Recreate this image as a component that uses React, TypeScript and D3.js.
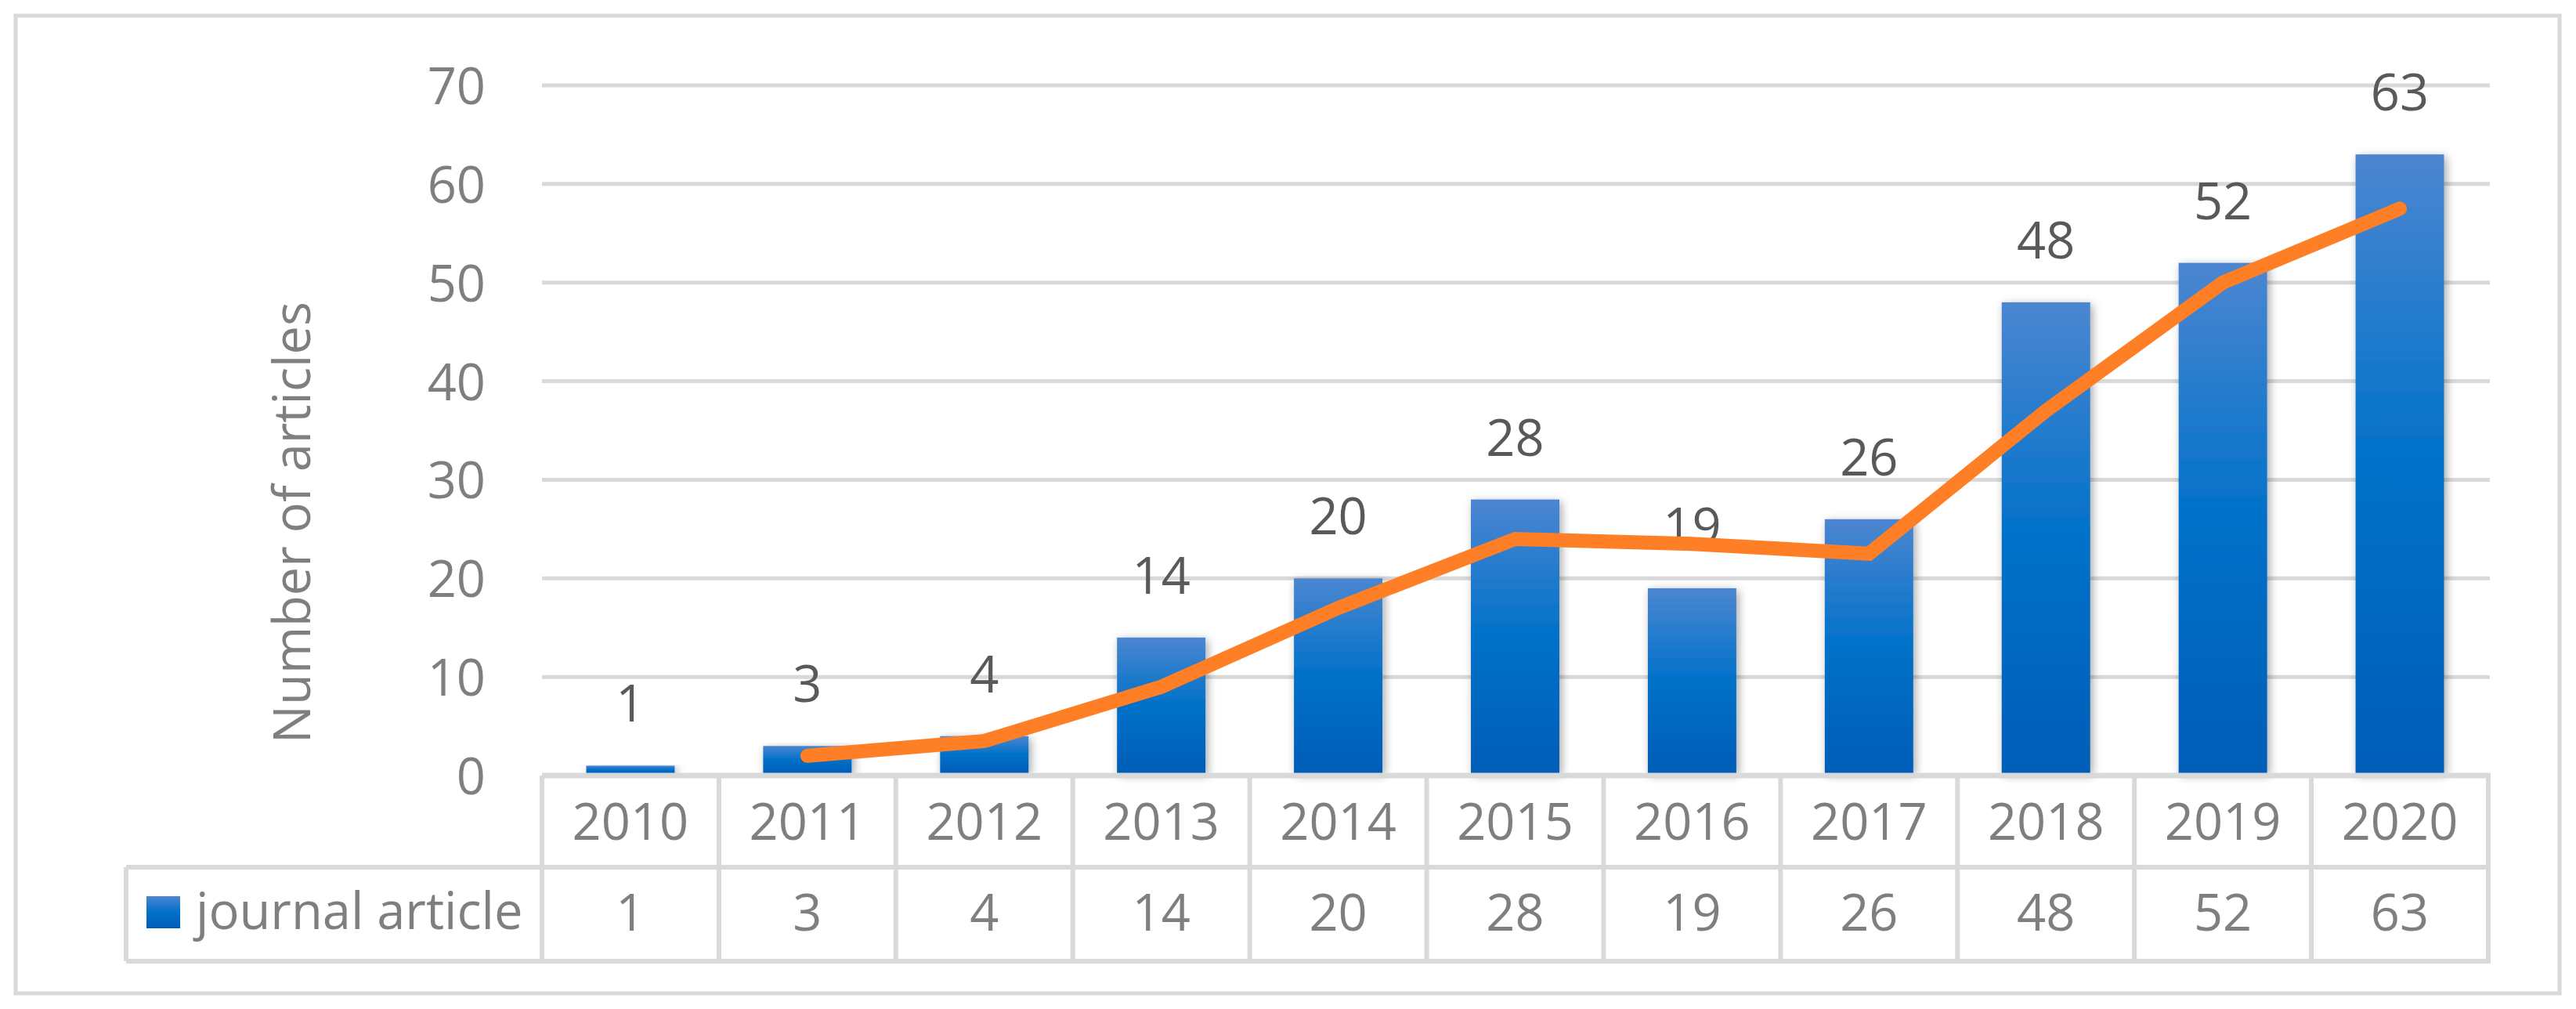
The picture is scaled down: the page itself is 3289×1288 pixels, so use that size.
import React from "react";
import * as d3 from "d3";

const years = ["2010", "2011", "2012", "2013", "2014", "2015", "2016", "2017", "2018", "2019", "2020"];
const articles = [1, 3, 4, 14, 20, 28, 19, 26, 48, 52, 63];
// trend line values (starts at 2011)
const trendYears = ["2011", "2012", "2013", "2014", "2015", "2016", "2017", "2018", "2019", "2020"];
const trendValues = [2, 3.5, 9, 17, 24, 23.5, 22.5, 37, 50, 57.5];
const yTicks = [0, 10, 20, 30, 40, 50, 60, 70];
const seriesName = "journal article";
const yTitle = "Number of articles";

const W = 3289;
const H = 1288;
const FONT = "'Open Sans', Lato, sans-serif";
const FS = 65;
const GRID = "#d9d9d9";
const TXT = "#7f7f7f";
const LBL = "#595959";

export default function App() {
  const plotLeft = 692;
  const plotRight = 3177;
  const yScale = d3.scaleLinear().domain([0, 70]).range([990, 109]);
  const colScale = d3.scaleBand<string>().domain(years).range([plotLeft, plotRight]).padding(0);
  const barScale = d3
    .scaleBand<string>()
    .domain(years)
    .range([plotLeft, plotRight])
    .paddingInner(0.5)
    .paddingOuter(0.25);

  const tableTop = yScale(0);
  const rowMid = 1107;
  const tableBottom = 1227;
  const legendLeft = 161;

  const line = d3
    .line<number>()
    .x((_, i) => (barScale(trendYears[i]) as number) + barScale.bandwidth() / 2)
    .y((d) => yScale(d));

  const colEdges = years.map((y) => colScale(y) as number).concat([plotRight]);

  return (
    <svg
      width={W}
      height={H}
      style={{ position: "absolute", left: 0, top: 0, background: "#fff" }}
      fontFamily={FONT}
    >
      <defs>
        <linearGradient id="barGrad" x1="0" y1="0" x2="0" y2="1">
          <stop offset="0%" stopColor="#4c86d1" />
          <stop offset="50%" stopColor="#0071c9" />
          <stop offset="100%" stopColor="#005db7" />
        </linearGradient>
        <filter id="shadow" x="-30%" y="-10%" width="160%" height="120%">
          <feDropShadow dx="3" dy="3" stdDeviation="6" floodColor="#000" floodOpacity="0.35" />
        </filter>
      </defs>
      <rect x={0} y={0} width={W} height={H} fill="#fff" />
      {/* outer border */}
      <rect x={20} y={20} width={3248} height={1248} fill="none" stroke={GRID} strokeWidth={5} />

      {/* gridlines */}
      {yTicks
        .filter((t) => t > 0)
        .map((t) => (
          <line key={t} x1={plotLeft} x2={plotRight + 2} y1={yScale(t)} y2={yScale(t)} stroke={GRID} strokeWidth={5} />
        ))}

      {/* y tick labels */}
      {yTicks.map((t) => (
        <text key={t} x={620} y={yScale(t) + 24} textAnchor="end" fontSize={FS} fill={TXT}>
          {t}
        </text>
      ))}

      {/* y title */}
      <text
        transform={`translate(396, 667) rotate(-90)`}
        textAnchor="middle"
        fontSize={FS}
        fill={TXT}
      >
        {yTitle}
      </text>

      {/* bars */}
      {years.map((yr, i) => (
        <rect
          key={yr}
          x={barScale(yr)}
          y={yScale(articles[i])}
          width={barScale.bandwidth()}
          height={tableTop - 3 - yScale(articles[i])}
          fill="url(#barGrad)"
          filter="url(#shadow)"
        />
      ))}

      {/* data labels */}
      {years.map((yr, i) => (
        <text
          key={yr}
          x={(barScale(yr) as number) + barScale.bandwidth() / 2}
          y={yScale(articles[i]) - 56}
          textAnchor="middle"
          fontSize={FS}
          fill={LBL}
        >
          {articles[i]}
        </text>
      ))}

      {/* trend line */}
      <path
        d={line(trendValues) as string}
        fill="none"
        stroke="#fe7f26"
        strokeWidth={18}
        strokeLinecap="round"
        strokeLinejoin="miter"
      />

      {/* data table */}
      <line x1={plotLeft} x2={plotRight + 3} y1={tableTop} y2={tableTop} stroke={GRID} strokeWidth={7} />
      <line x1={legendLeft} x2={plotRight + 3} y1={rowMid} y2={rowMid} stroke={GRID} strokeWidth={6} />
      <line x1={legendLeft} x2={plotRight + 3} y1={tableBottom} y2={tableBottom} stroke={GRID} strokeWidth={6} />
      {colEdges.map((x, i) => (
        <line key={i} x1={x} x2={x} y1={tableTop} y2={tableBottom} stroke={GRID} strokeWidth={6} />
      ))}
      <line x1={legendLeft} x2={legendLeft} y1={rowMid} y2={tableBottom} stroke={GRID} strokeWidth={6} />

      {years.map((yr) => (
        <text
          key={yr}
          x={(colScale(yr) as number) + colScale.bandwidth() / 2}
          y={1072}
          textAnchor="middle"
          fontSize={FS}
          fill={TXT}
        >
          {yr}
        </text>
      ))}
      {years.map((yr, i) => (
        <text
          key={yr}
          x={(colScale(yr) as number) + colScale.bandwidth() / 2}
          y={1188}
          textAnchor="middle"
          fontSize={FS}
          fill={TXT}
        >
          {articles[i]}
        </text>
      ))}

      {/* legend key */}
      <rect x={187} y={1144} width={43} height={41} fill="url(#barGrad)" />
      <text x={250} y={1186} fontSize={FS} fill={TXT}>
        {seriesName}
      </text>
    </svg>
  );
}
